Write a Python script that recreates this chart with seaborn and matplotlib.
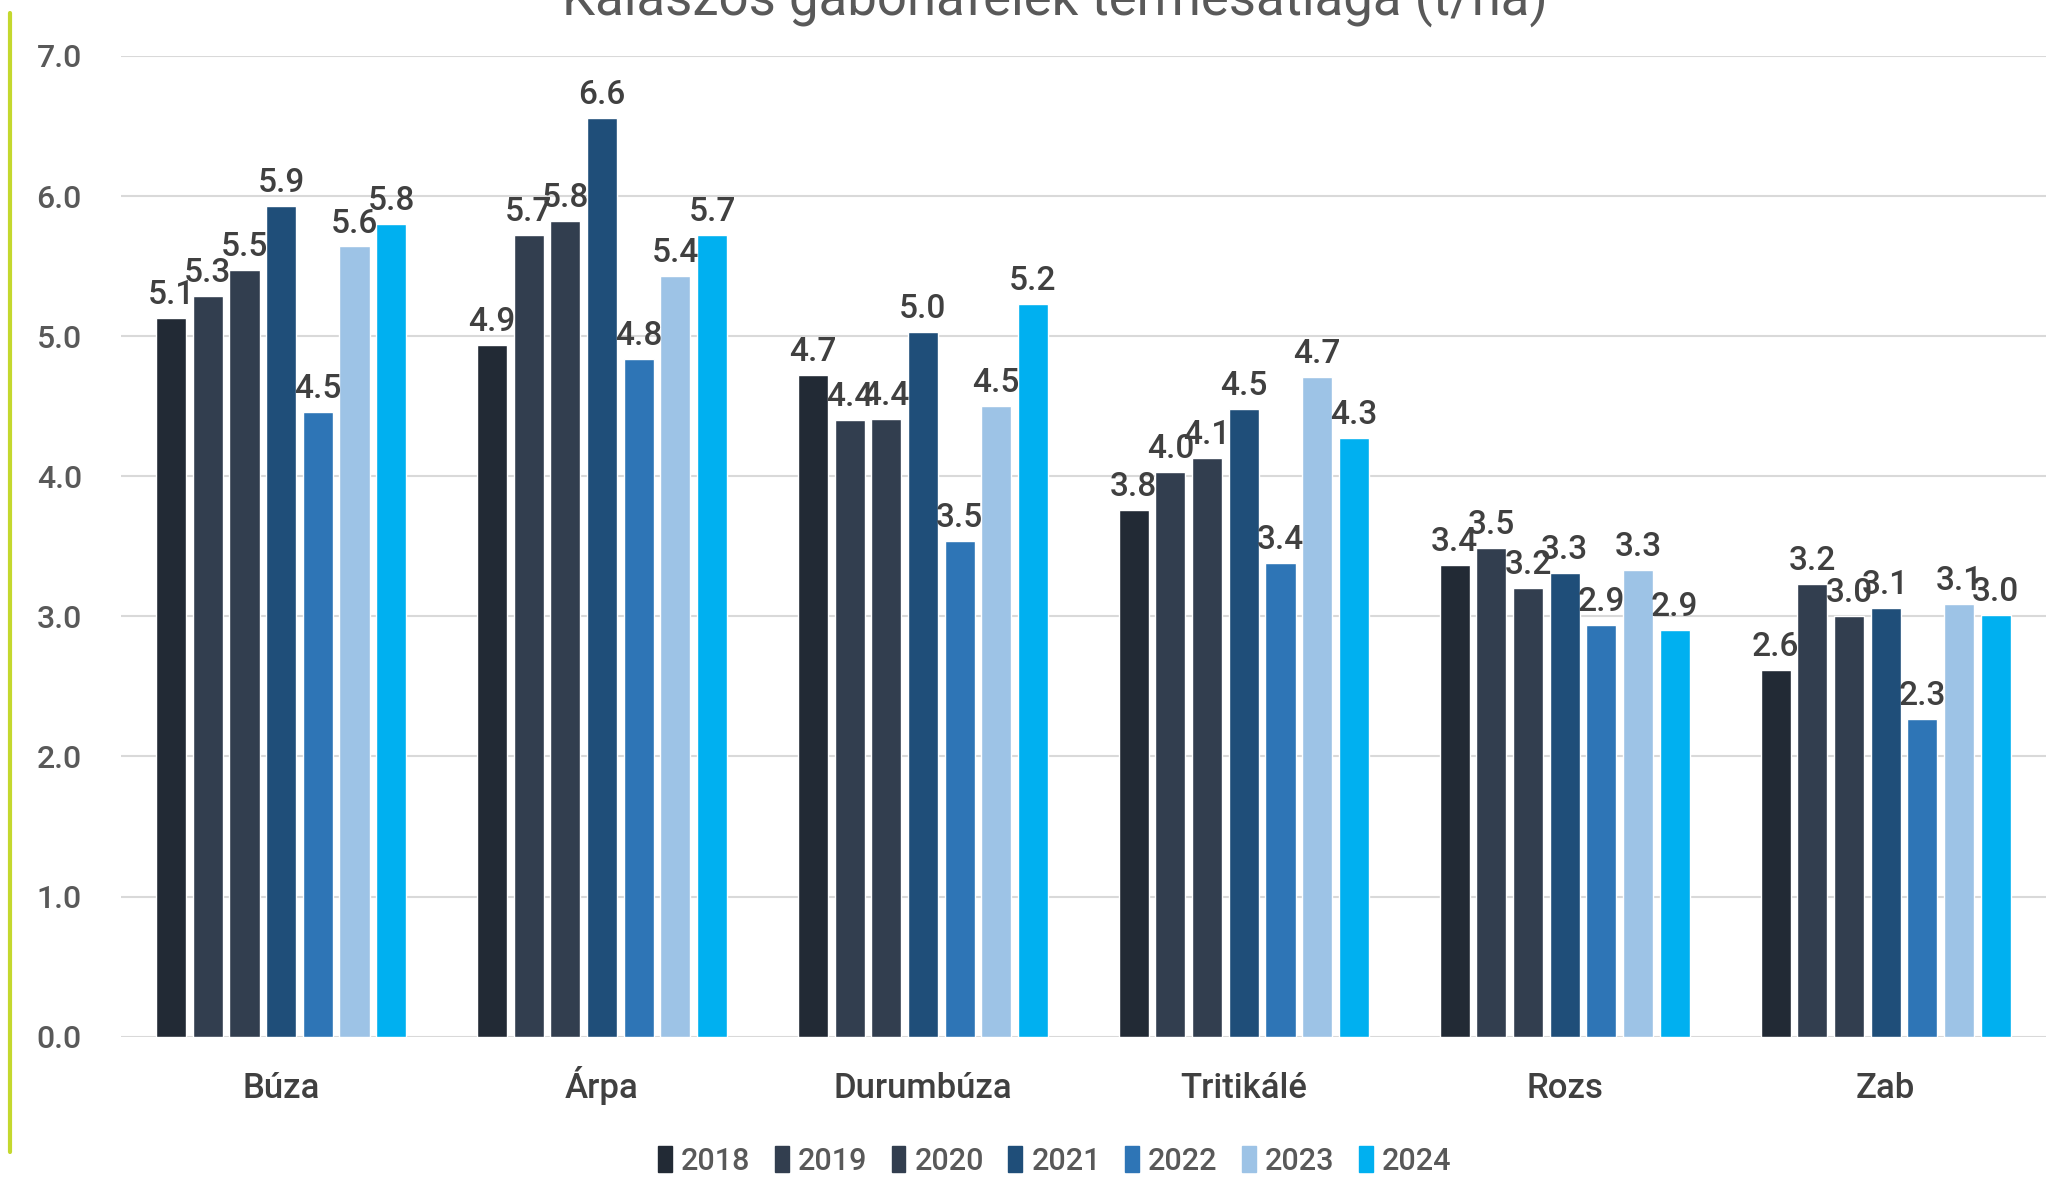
import pandas as pd
import matplotlib.pyplot as plt
import seaborn as sns
from matplotlib.lines import Line2D

# adatok (t/ha)
categories = ["Búza", "Árpa", "Durumbúza", "Tritikálé", "Rozs", "Zab"]
years = ["2018", "2019", "2020", "2021", "2022", "2023", "2024"]
y2018 = [5.13, 4.94, 4.72, 3.76, 3.37, 2.62]
y2019 = [5.29, 5.72, 4.40, 4.03, 3.49, 3.23]
y2020 = [5.47, 5.82, 4.41, 4.13, 3.20, 3.00]
y2021 = [5.93, 6.56, 5.03, 4.48, 3.31, 3.06]
y2022 = [4.46, 4.84, 3.54, 3.38, 2.94, 2.27]
y2023 = [5.64, 5.43, 4.50, 4.71, 3.33, 3.09]
y2024 = [5.80, 5.72, 5.23, 4.27, 2.90, 3.01]
colors = ["#222A35", "#323E4F", "#323E4F", "#1F4E79", "#2E75B6", "#9DC3E6", "#00B0F0"]

series = [y2018, y2019, y2020, y2021, y2022, y2023, y2024]
rows = []
for year, vals in zip(years, series):
    for cat, v in zip(categories, vals):
        rows.append({"kategoria": cat, "ev": year, "ertek": v})
df = pd.DataFrame(rows)

sns.set_style("white")
plt.rcParams["font.family"] = ["Roboto", "DejaVu Sans"]
plt.rcParams["font.weight"] = "medium"

fig = plt.figure(figsize=(20.46, 11.78), dpi=100)
ax = fig.add_axes([0.059, 0.12, 0.941, 0.8325])

sns.barplot(data=df, x="kategoria", y="ertek", hue="ev", palette=colors,
            width=0.8, gap=0.18, edgecolor="white", linewidth=1,
            saturation=1, legend=False, ax=ax)

# címkék a bárok fölött
for cont in ax.containers:
    ax.bar_label(cont, fmt="%.1f", padding=5, fontsize=24, color="#404040")

ax.set_ylim(0, 7)
ax.set_xlim(-0.5, 5.5)
ax.set_yticks([0, 1, 2, 3, 4, 5, 6, 7])
ax.set_yticklabels([f"{t:.1f}" for t in range(8)], fontsize=23, color="#595959")
ax.tick_params(axis="x", labelsize=25, colors="#404040", length=0, pad=44)
ax.tick_params(axis="y", length=0, pad=28)
for lab in ax.get_xticklabels():
    lab.set_va("baseline")
ax.set_xlabel("")
ax.set_ylabel("")
ax.yaxis.grid(True, color="#D9D9D9", linewidth=1.5)
ax.set_axisbelow(True)
for s in ax.spines.values():
    s.set_visible(False)

# cím, felül levágva (mint az eredetin)
fig.text(0.5155, 1 - 15 / 1178, "Kalászos gabonafélék termésátlaga (t/ha)",
         ha="center", va="baseline", fontsize=38, fontweight="normal", color="#595959")

# jelmagyarázat
handles = [plt.Rectangle((0, 0), 1, 1, color=c) for c in colors]
fig.legend(handles, years, loc="center", bbox_to_anchor=(0.5155, 1 - 1161 / 1178),
           ncol=7, frameon=False, fontsize=22, labelcolor="#595959",
           handlelength=0.45, handleheight=0.9, handletextpad=0.3, columnspacing=0.8)

# zöld függőleges vonal bal oldalon
fig.add_artist(Line2D([9.5 / 2046, 9.5 / 2046], [1 - 13 / 1178, 1 - 1152 / 1178],
                      transform=fig.transFigure, color="#C4D82E", linewidth=3))

fig.savefig("out.png", dpi=100)
